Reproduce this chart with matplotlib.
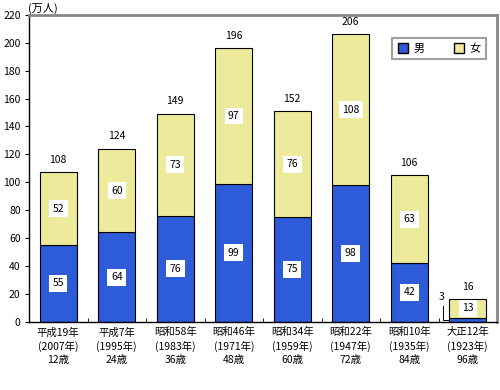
import numpy as np
import matplotlib.pyplot as plt
from matplotlib.patches import Patch

plt.rcParams['font.family'] = ['Noto Sans CJK JP', 'DejaVu Sans']

# data (万人)
categories = ['平成19年\n(2007年)\n12歳', '平成7年\n(1995年)\n24歳', '昭和58年\n(1983年)\n36歳',
              '昭和46年\n(1971年)\n48歳', '昭和34年\n(1959年)\n60歳', '昭和22年\n(1947年)\n72歳',
              '昭和10年\n(1935年)\n84歳', '大正12年\n(1923年)\n96歳']
male = [55, 64, 76, 99, 75, 98, 42, 3]
female = [52, 60, 73, 97, 76, 108, 63, 13]
totals = [108, 124, 149, 196, 152, 206, 106, 16]

blue = '#2E5CD8'
yellow = '#EEEA9C'

fig = plt.figure(figsize=(5, 3.9), dpi=100)
ax = fig.add_axes([0.058, 0.175, 0.936, 0.787])

x = np.arange(len(categories))
w = 0.63
ax.bar(x, male, w, color=blue, edgecolor='black', linewidth=0.8)
ax.bar(x, female, w, bottom=male, color=yellow, edgecolor='black', linewidth=0.8)

box = dict(facecolor='white', edgecolor='none', pad=2.5)
for i in range(len(x)):
    top = male[i] + female[i]
    ax.text(x[i], top + 9, str(totals[i]), ha='center', va='center', fontsize=7.5)
    ax.text(x[i], male[i] + female[i] / 2, str(female[i]), ha='center', va='center',
            fontsize=7.5, bbox=box)
    if male[i] > 10:
        ax.text(x[i], male[i] / 2, str(male[i]), ha='center', va='center',
                fontsize=7.5, bbox=box)

# the small male value of the last bar sits outside with a leader line
last = len(x) - 1
lx = x[last] - w / 2 - 0.11
ax.plot([lx, lx, x[last] - w / 2], [11, 1.5, 1.5], color='black', linewidth=0.7)
ax.text(lx - 0.03, 17.5, str(male[last]), ha='center', va='center', fontsize=7.5)

ax.set_xlim(-0.5, len(x) - 0.5)
ax.set_ylim(0, 220)
ax.set_yticks(range(0, 221, 20))
ax.set_xticks(x)
ax.set_xticklabels(categories, fontsize=7.5, linespacing=1.35)
ax.tick_params(axis='x', length=0, pad=4)
ax.set_xticks(np.arange(-0.5, len(x), 1), minor=True)
ax.tick_params(axis='x', which='minor', direction='in', length=3)
ax.tick_params(axis='y', labelsize=7.5, length=3, width=0.8, pad=3)

for s in ['left', 'bottom']:
    ax.spines[s].set_color('black')
    ax.spines[s].set_linewidth(1.0)
for s in ['top', 'right']:
    ax.spines[s].set_color('#888888')
    ax.spines[s].set_linewidth(2.0)

fig.text(0.086, 0.978, '(万人)', ha='center', va='center', fontsize=8)

handles = [Patch(facecolor=blue, edgecolor='black', label='男'),
           Patch(facecolor=yellow, edgecolor='black', label='女')]
leg = ax.legend(handles=handles, ncol=2, loc='upper right', bbox_to_anchor=(0.976, 0.925),
                fontsize=8, frameon=True, fancybox=False, handlelength=0.9, handleheight=0.9,
                columnspacing=2.6, borderpad=0.5, handletextpad=0.5, borderaxespad=0)
leg.get_frame().set_edgecolor('#888888')
leg.get_frame().set_linewidth(1.5)

fig.savefig('out.png', dpi=100)
